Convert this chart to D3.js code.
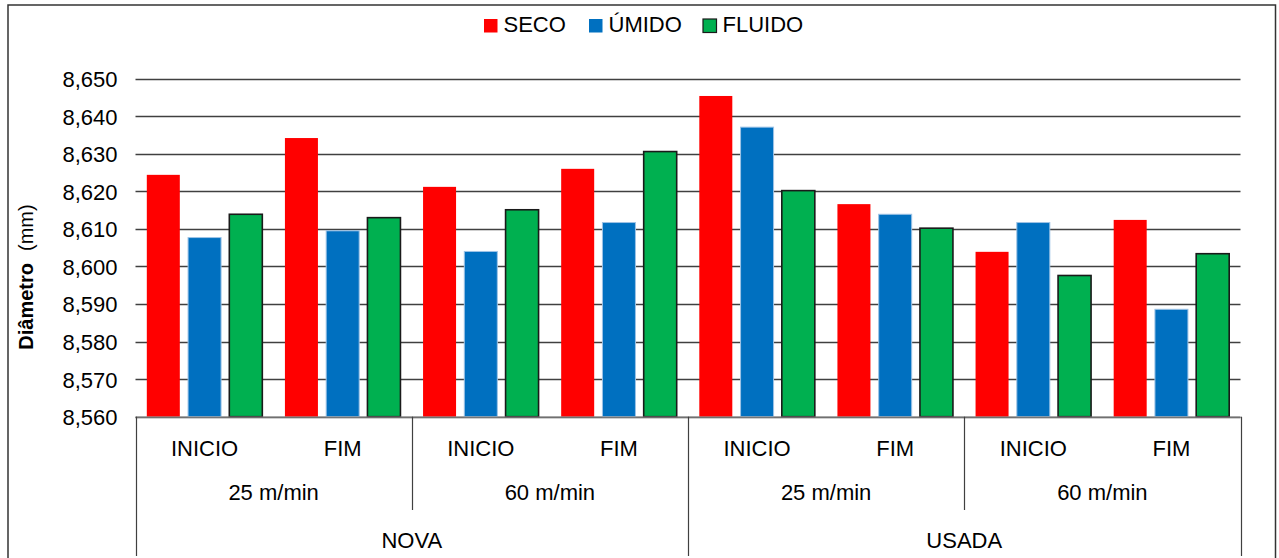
<!DOCTYPE html>
<html><head><meta charset="utf-8">
<script src="https://cdn.jsdelivr.net/npm/d3@7"></script>
<style>
html,body{margin:0;padding:0;background:#fff;}
svg{display:block;font-family:"Liberation Sans",Arial,sans-serif;}
</style></head>
<body>
<svg id="c" width="1279" height="558"></svg>
<script>
// ---- data ----
const materials = ["NOVA", "USADA"];
const speeds = ["25 m/min", "60 m/min"];
const phases = ["INICIO", "FIM"];
const seriesNames = ["SECO", "ÚMIDO", "FLUIDO"];
const seco   = [8.6244, 8.6342, 8.6212, 8.6260, 8.6454, 8.6166, 8.6039, 8.6124];
const umido  = [8.6077, 8.6095, 8.6040, 8.6117, 8.6371, 8.6139, 8.6117, 8.5886];
const fluido = [8.6139, 8.6130, 8.6151, 8.6306, 8.6202, 8.6102, 8.5976, 8.6034];
const yTicks = [8.56, 8.57, 8.58, 8.59, 8.60, 8.61, 8.62, 8.63, 8.64, 8.65];
const yTitle = "Diâmetro";
const yUnit = "(mm)";

// build categories
const cats = [];
materials.forEach(m => speeds.forEach(s => phases.forEach(p => cats.push({m, s, p, key: m + "|" + s + "|" + p}))));
const values = [seco, umido, fluido];
const colors = ["#FF0000", "#0070C0", "#00B050"];
const strokes = ["none", "#9DC3E6", "#1a1a1a"];
const strokeW = [0, 1, 1.6];

const svg = d3.select("#c");
const L = 135.5, R = 1240.5, T = 78.7, B = 416.7;

// outer border
svg.append("rect").attr("x", 8).attr("y", 5).attr("width", 1267.5).attr("height", 600)
  .attr("fill", "none").attr("stroke", "#333").attr("stroke-width", 1.5);

const y = d3.scaleLinear().domain([8.56, 8.65]).range([B, T]);
const x0 = d3.scaleBand().domain(cats.map(c => c.key)).range([L, R]).paddingInner(0).paddingOuter(0);
const x1 = d3.scaleBand().domain(seriesNames).range([0, x0.bandwidth()]).paddingInner(0.2).paddingOuter(0.274);

// gridlines
svg.append("g").selectAll("line").data(yTicks).join("line")
  .attr("x1", L).attr("x2", R)
  .attr("y1", d => Math.round(y(d)) + 0.5).attr("y2", d => Math.round(y(d)) + 0.5)
  .attr("stroke", "#404040").attr("stroke-width", 1.3);

// y axis labels
const loc = d3.formatLocale({decimal: ",", thousands: ".", grouping: [3], currency: ["", ""]});
const fmt = loc.format(".3f");
const yAxis = d3.axisLeft(y).tickValues(yTicks).tickFormat(fmt).tickSize(0).tickPadding(18);
const gy = svg.append("g").attr("transform", `translate(${L},0)`).call(yAxis);
gy.select(".domain").remove();
gy.selectAll("text").attr("font-size", 22).attr("fill", "#000")
  .attr("font-family", "Liberation Sans, Arial, sans-serif").attr("dy", "0.36em");

// bars
const groups = svg.append("g").selectAll("g").data(cats).join("g")
  .attr("transform", d => `translate(${x0(d.key)},0)`);
seriesNames.forEach((s, si) => {
  groups.append("rect")
    .attr("x", x1(s))
    .attr("width", x1.bandwidth())
    .attr("y", (d, i) => y(values[si][i]))
    .attr("height", (d, i) => B - y(values[si][i]))
    .attr("fill", colors[si])
    .attr("stroke", strokes[si])
    .attr("stroke-width", strokeW[si]);
});

// axis baseline
svg.append("line").attr("x1", L).attr("x2", R).attr("y1", B + 0.5).attr("y2", B + 0.5)
  .attr("stroke", "#808080").attr("stroke-width", 1.3);

// category axis
const cat = svg.append("g");
const bw = x0.bandwidth();
// level 1 labels
cat.selectAll("text.l1").data(cats).join("text").attr("class", "l1")
  .attr("x", d => x0(d.key) + bw / 2).attr("y", 456)
  .attr("text-anchor", "middle").attr("font-size", 22).text(d => d.p);
// level 2 labels
const lvl2 = [];
materials.forEach(m => speeds.forEach(s => lvl2.push({m, s})));
lvl2.forEach((d, i) => {
  const start = x0(cats[i * 2].key);
  cat.append("text").attr("x", start + bw).attr("y", 500)
    .attr("text-anchor", "middle").attr("font-size", 22).text(d.s);
});
// level 3 labels
materials.forEach((m, i) => {
  const start = x0(cats[i * 4].key);
  cat.append("text").attr("x", start + bw * 2).attr("y", 548)
    .attr("text-anchor", "middle").attr("font-size", 22).text(m);
});
// separators
const sepX = [];
for (let i = 0; i <= cats.length; i += 2) sepX.push(i);
sepX.forEach(i => {
  const xx = Math.round(i === cats.length ? R : x0(cats[i].key)) + 0.5;
  const full = (i % 4 === 0);
  cat.append("line").attr("x1", xx).attr("x2", xx).attr("y1", B).attr("y2", full ? 556 : 510)
    .attr("stroke", "#404040").attr("stroke-width", 1.2);
});

// y title
const yt = svg.append("text").attr("transform", "translate(33,277) rotate(-90)")
  .attr("text-anchor", "middle").attr("font-size", 20).attr("fill", "#000");
yt.append("tspan").attr("font-weight", "bold").text(yTitle);
yt.append("tspan").attr("dx", 12).text(yUnit);

// legend
const legX = [484, 589, 703];
seriesNames.forEach((s, i) => {
  svg.append("rect").attr("x", legX[i]).attr("y", 19).attr("width", 13.5).attr("height", 13.5)
    .attr("fill", colors[i]).attr("stroke", i === 2 ? "#1a1a1a" : "none").attr("stroke-width", 1.2);
  svg.append("text").attr("x", legX[i] + 19.5).attr("y", 32).attr("font-size", 22).text(s);
});
</script>
</body></html>
